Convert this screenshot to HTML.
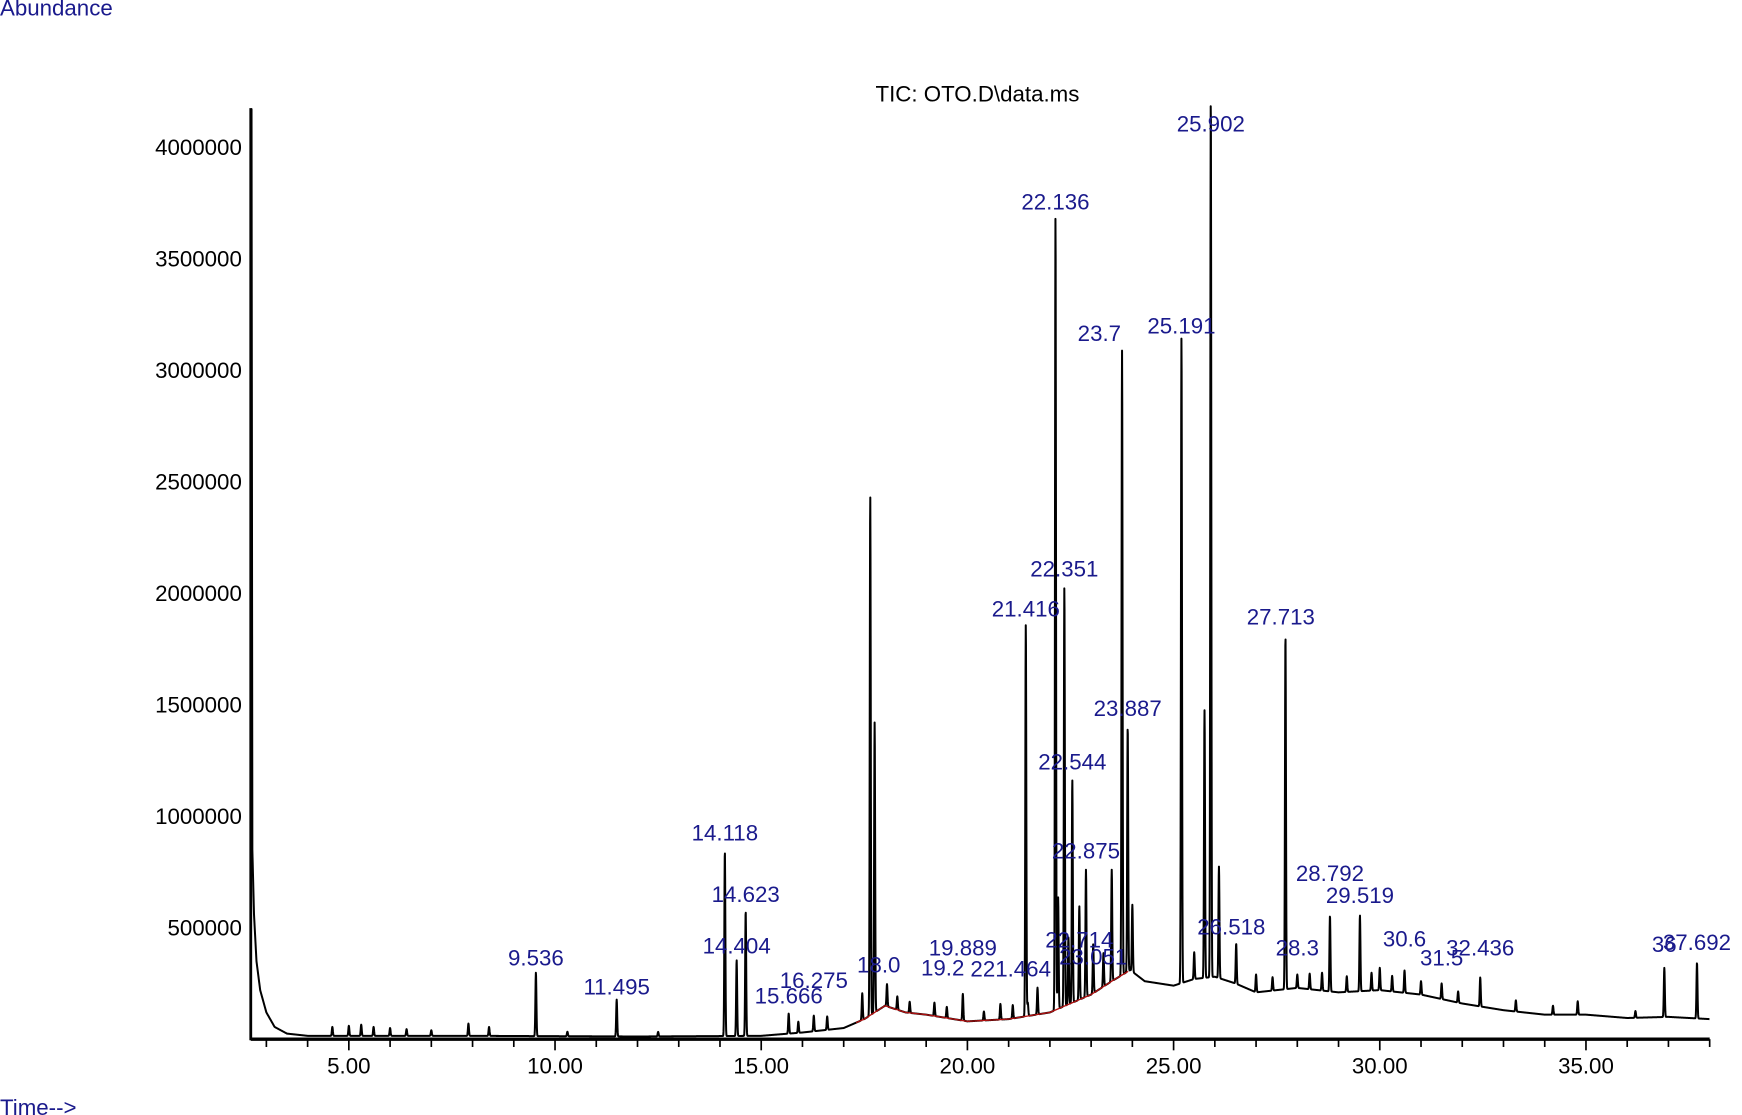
<!DOCTYPE html>
<html><head><meta charset="utf-8"><style>
html,body{margin:0;padding:0;background:#fff;}
svg{display:block;}
text{font-family:"Liberation Sans",sans-serif;}
</style></head><body>
<svg id="chart" width="1742" height="1115" viewBox="0 0 1563 1000" preserveAspectRatio="none" xmlns="http://www.w3.org/2000/svg">
<text x="0" y="14" font-size="20" fill="#1a1a8c">Abundance</text>
<text x="0" y="1000" font-size="20" fill="#1a1a8c">Time--&gt;</text>
<text x="877" y="91" font-size="20" fill="#000" text-anchor="middle">TIC: OTO.D\data.ms</text>
<g id="axes"></g>
<g id="trace"></g>
<g id="labels"></g>
</svg>
<script>
// ---- data ----
const yTicks = [500000,1000000,1500000,2000000,2500000,3000000,3500000,4000000];
const yTickLabels = ["500000","1000000","1500000","2000000","2500000","3000000","3500000","4000000"];
const xTicks = [5,10,15,20,25,30,35];
const xTickLabels = ["5.00","10.00","15.00","20.00","25.00","30.00","35.00"];
// baseline (retention time, abundance)
const baseTimes = [2.62,2.64,2.66,2.70,2.76,2.85,3.0,3.2,3.5,4.0,8.0,12.0,15.0,16.0,17.0,17.5,18.0,18.5,19.0,20.0,21.0,22.0,23.0,23.5,23.95,24.3,25.0,25.5,26.0,26.5,27.0,28.0,29.0,30.0,31.0,32.0,33.0,34.0,35.0,36.0,37.0,38.0];
const baseVals  = [0,4170000,850000,560000,350000,220000,120000,55000,25000,15000,15000,12000,15000,30000,50000,90000,150000,120000,110000,80000,90000,120000,200000,260000,310000,260000,240000,270000,280000,250000,210000,230000,210000,220000,200000,160000,130000,110000,110000,95000,100000,90000];
// peaks: retention times and apex abundance above baseline
const peakTimes = [4.6,5.0,5.3,5.6,6.0,6.4,7.0,7.9,8.4,9.536,10.3,11.495,12.5,14.118,14.404,14.623,15.666,15.9,16.275,16.6,17.45,17.644,17.75,18.05,18.3,18.6,19.2,19.5,19.889,20.4,20.8,21.1,21.416,21.464,21.7,22.136,22.2,22.351,22.45,22.544,22.714,22.875,23.051,23.3,23.5,23.75,23.887,24.0,25.191,25.5,25.75,25.902,26.1,26.518,27.0,27.4,27.713,28.0,28.3,28.6,28.792,29.2,29.519,29.8,30.0,30.3,30.6,31.0,31.5,31.9,32.436,33.3,34.2,34.8,36.2,36.9,37.692];
const peakVals  = [40000,45000,50000,40000,35000,30000,25000,55000,40000,285000,20000,165000,20000,830000,340000,560000,90000,50000,70000,60000,120000,2330000,1300000,100000,60000,50000,60000,50000,120000,40000,70000,60000,1760000,60000,120000,3560000,500000,1880000,300000,1000000,420000,570000,220000,150000,500000,2800000,1100000,300000,2900000,120000,1200000,3960000,500000,180000,80000,60000,1590000,60000,70000,80000,340000,70000,340000,80000,100000,70000,100000,60000,70000,50000,130000,50000,40000,60000,30000,220000,250000];
const labelTexts = ["9.536","11.495","14.118","14.623","14.404","15.666","16.275","18.0","19.889","19.2","221.464","22.714","23.051","22.875","22.544","22.351","21.416","22.136","23.7","25.191","25.902","23.887","26.518","27.713","28.792","29.519","28.3","30.6","31.5","32.436","36","37.692"];
const labelTimes = [9.536,11.495,14.118,14.623,14.404,15.666,16.275,17.85,19.889,19.4,21.05,22.714,23.051,22.875,22.544,22.351,21.416,22.136,23.2,25.191,25.902,23.887,26.4,27.6,28.792,29.519,28.0,30.6,31.5,32.436,36.9,37.692];
const labelAbund = [330000,200000,890000,615000,385000,160000,230000,300000,375000,285000,280000,410000,335000,810000,1210000,2075000,1895000,3720000,3130000,3165000,4070000,1450000,470000,1860000,710000,610000,375000,415000,330000,375000,390000,400000];

// ---- axes functions ----
const X = t => 313 + (t - 5) * 37.0;
const Y = a => 932 - a / 5000;
const NS = "http://www.w3.org/2000/svg";
function mk(tag, attrs, parent){const e=document.createElementNS(NS,tag);for(const k in attrs)e.setAttribute(k,attrs[k]);parent.appendChild(e);return e;}
const axes = document.getElementById('axes');
let e;
e = mk('line',{x1:225,y1:97,x2:225,y2:933,stroke:'#000','stroke-width':2.5},axes);


e = mk('line',{x1:225,y1:932,x2:1534,y2:932,stroke:'#000','stroke-width':3},axes);


yTicks.forEach((v,i)=>{
  const t = mk('text',{x:217,y:Y(v)+7,'font-size':20,'text-anchor':'end',fill:'#000'},axes);
  t.textContent = yTickLabels[i];
  
  
});
for(let m=3;m<=38;m++){
  const l = mk('line',{x1:X(m),y1:932,x2:X(m),y2:(m%5===0?942:939),stroke:'#000','stroke-width':1.5},axes);
  
  
}
xTicks.forEach((v,i)=>{
  const t = mk('text',{x:X(v),y:963,'font-size':20,'text-anchor':'middle',fill:'#000'},axes);
  t.textContent = xTickLabels[i];
  
  
});
// ---- trace ----
function base(t){
  if(t<=baseTimes[0])return baseVals[0];
  for(let i=1;i<baseTimes.length;i++){
    if(t<=baseTimes[i]){const f=(t-baseTimes[i-1])/(baseTimes[i]-baseTimes[i-1]);return baseVals[i-1]+f*(baseVals[i]-baseVals[i-1]);}
  }
  return baseVals[baseVals.length-1];
}
let d='';
for(let t=2.62;t<=38.0;t+=0.005){
  let v=base(t);
  for(let i=0;i<peakTimes.length;i++){const dt=(t-peakTimes[i])/0.012; if(Math.abs(dt)<5) v+=peakVals[i]*Math.exp(-dt*dt/2);}
  d+=(d?'L':'M')+X(t).toFixed(2)+','+Y(v).toFixed(2);
}
const trace=document.getElementById('trace');
const p=mk('path',{d:d,fill:'none',stroke:'#000','stroke-width':1.8,'stroke-linejoin':'round'},trace);


// red integration baseline
let rd='';
for(let t=17.3;t<=23.95;t+=0.05){rd+=(rd?'L':'M')+X(t).toFixed(2)+','+Y(base(t)).toFixed(2);}
const rp=mk('path',{d:rd,fill:'none',stroke:'#b01010','stroke-width':1.2},trace);


// ---- labels ----
const labels=document.getElementById('labels');
labelTexts.forEach((s,i)=>{
  const t=mk('text',{x:X(labelTimes[i]),y:Y(labelAbund[i]),'font-size':20,'text-anchor':'middle',fill:'#1a1a8c'},labels);
  t.textContent=s;
  
  
});
</script>
</body></html>
